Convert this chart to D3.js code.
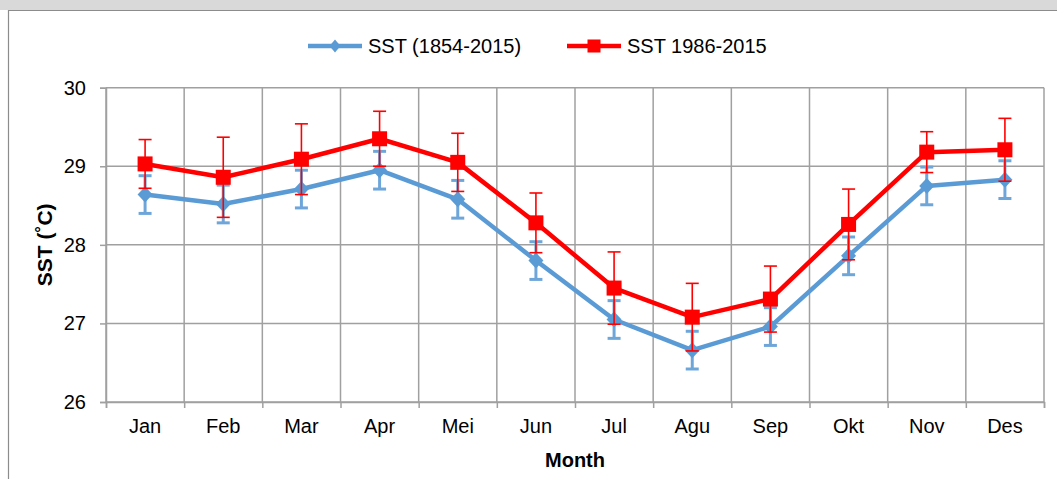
<!DOCTYPE html>
<html>
<head>
<meta charset="utf-8">
<script src="https://cdn.jsdelivr.net/npm/d3@7"></script>
<style>
  html, body { margin: 0; padding: 0; background: #fff; }
  svg { display: block; font-family: Arial, "Liberation Sans", sans-serif; }
</style>
</head>
<body>
<svg id="chart" width="1057" height="479"></svg>
<script>
// ---- data ----
const months = ["Jan","Feb","Mar","Apr","Mei","Jun","Jul","Agu","Sep","Okt","Nov","Des"];
const sstLong = [28.64, 28.52, 28.71, 28.95, 28.58, 27.80, 27.05, 26.66, 26.96, 27.86, 28.75, 28.83];
const sstLongErr = [0.24, 0.24, 0.24, 0.24, 0.24, 0.24, 0.24, 0.24, 0.24, 0.24, 0.24, 0.24];
const sstRecent = [29.03, 28.86, 29.09, 29.35, 29.05, 28.28, 27.45, 27.08, 27.31, 28.26, 29.18, 29.21];
const sstRecentErr = [0.31, 0.51, 0.45, 0.35, 0.37, 0.38, 0.46, 0.43, 0.42, 0.45, 0.26, 0.40];
const yTicks = [26, 27, 28, 29, 30];
const seriesNames = ["SST (1854-2015)", "SST 1986-2015"];

// ---- layout ----
const W = 1057, H = 479;
const plot = { left: 106, right: 1044, top: 87.7, bottom: 402 };
const svg = d3.select("#chart");

// background / frame
svg.append("rect").attr("x", 0).attr("y", 0).attr("width", W).attr("height", H).attr("fill", "#fff");
svg.append("rect").attr("x", 0).attr("y", 0).attr("width", W).attr("height", 10).attr("fill", "#d9d9d9");
svg.append("line").attr("x1", 8).attr("x2", W).attr("y1", 10.5).attr("y2", 10.5)
  .attr("stroke", "#8c8c8c").attr("stroke-width", 1.2);
svg.append("line").attr("x1", 8.5).attr("x2", 8.5).attr("y1", 10).attr("y2", H)
  .attr("stroke", "#8c8c8c").attr("stroke-width", 1.2);

// scales
const x = d3.scaleBand().domain(months).range([plot.left, plot.right]).padding(0);
const xIdx = d3.scaleLinear().domain([0, months.length]).range([plot.left, plot.right]);
const y = d3.scaleLinear().domain([26, 30]).range([plot.bottom, plot.top]);
const cx = m => x(m) + x.bandwidth() / 2;

const gridColor = "#a0a0a0";

// horizontal gridlines
svg.append("g").selectAll("line").data(yTicks).join("line")
  .attr("x1", plot.left).attr("x2", plot.right)
  .attr("y1", d => y(d)).attr("y2", d => y(d))
  .attr("stroke", gridColor).attr("stroke-width", 1.5);
// vertical gridlines at category boundaries
svg.append("g").selectAll("line").data(d3.range(0, months.length + 1)).join("line")
  .attr("x1", d => xIdx(d)).attr("x2", d => xIdx(d))
  .attr("y1", plot.top).attr("y2", plot.bottom)
  .attr("stroke", gridColor).attr("stroke-width", 1.5);

// y axis
const yAxis = svg.append("g").attr("transform", `translate(${plot.left},0)`)
  .call(d3.axisLeft(y).tickValues(yTicks).tickSize(6).tickPadding(14).tickFormat(d3.format("d")));
yAxis.select(".domain").attr("stroke", gridColor).attr("stroke-width", 1.5);
yAxis.selectAll(".tick line").attr("stroke", gridColor).attr("stroke-width", 1.5);
yAxis.selectAll(".tick text").attr("font-size", 20).attr("fill", "#000")
  .attr("font-family", "Arial, 'Liberation Sans', sans-serif");

// x axis ticks at boundaries
const xTickAxis = svg.append("g").attr("transform", `translate(0,${plot.bottom})`)
  .call(d3.axisBottom(xIdx).tickValues(d3.range(0, months.length + 1)).tickSize(6).tickFormat(""));
xTickAxis.select(".domain").attr("stroke", gridColor).attr("stroke-width", 1.5);
xTickAxis.selectAll(".tick line").attr("stroke", gridColor).attr("stroke-width", 1.5);

// x axis labels at centers
const xLab = svg.append("g").attr("transform", `translate(0,${plot.bottom})`)
  .call(d3.axisBottom(x).tickSize(0).tickPadding(17));
xLab.select(".domain").remove();
xLab.selectAll(".tick text").attr("font-size", 20).attr("fill", "#000")
  .attr("font-family", "Arial, 'Liberation Sans', sans-serif");

// axis titles
svg.append("text").attr("x", (plot.left + plot.right) / 2).attr("y", 467)
  .attr("text-anchor", "middle").attr("font-size", 20).attr("font-weight", "bold").text("Month");
svg.append("text")
  .attr("transform", `translate(52,${(plot.top + plot.bottom) / 2}) rotate(-90)`)
  .attr("text-anchor", "middle").attr("font-size", 21).attr("font-weight", "bold")
  .text("SST (\u02DAC)");

// ---- series ----
const blue = "#5b9bd5", red = "#ff0000";
const line = d3.line().x((d, i) => cx(months[i])).y(d => y(d));

function drawSeries(vals, errs, color, errColor, errWidth, capW, marker) {
  const g = svg.append("g");
  g.append("path").datum(vals).attr("d", line).attr("fill", "none")
    .attr("stroke", color).attr("stroke-width", 4.5).attr("stroke-linejoin", "round");
  const eb = g.append("g").selectAll("g").data(vals).join("g")
    .attr("transform", (d, i) => `translate(${cx(months[i])},0)`);
  eb.append("line").attr("x1", 0).attr("x2", 0)
    .attr("y1", (d, i) => y(d + errs[i])).attr("y2", (d, i) => y(d - errs[i]))
    .attr("stroke", errColor).attr("stroke-width", errWidth);
  eb.append("line").attr("x1", -capW / 2).attr("x2", capW / 2)
    .attr("y1", (d, i) => y(d + errs[i])).attr("y2", (d, i) => y(d + errs[i]))
    .attr("stroke", errColor).attr("stroke-width", errWidth);
  eb.append("line").attr("x1", -capW / 2).attr("x2", capW / 2)
    .attr("y1", (d, i) => y(d - errs[i])).attr("y2", (d, i) => y(d - errs[i]))
    .attr("stroke", errColor).attr("stroke-width", errWidth);
  const mk = g.append("g").selectAll("g").data(vals).join("g")
    .attr("transform", (d, i) => `translate(${cx(months[i])},${y(d)})`);
  marker(mk);
}

drawSeries(sstLong, sstLongErr, blue, "#6fa6da", 3, 13, sel => {
  sel.append("path").attr("d", "M0,-8L7.5,0L0,8L-7.5,0Z").attr("fill", blue);
});
drawSeries(sstRecent, sstRecentErr, red, red, 1.6, 13, sel => {
  sel.append("rect").attr("x", -7.5).attr("y", -7.5).attr("width", 15).attr("height", 15).attr("fill", red);
});

// ---- legend ----
const legend = svg.append("g");
const items = [
  { name: seriesNames[0], color: blue, x0: 308, type: "diamond" },
  { name: seriesNames[1], color: red, x0: 567, type: "square" }
];
const ly = 46;
items.forEach(it => {
  legend.append("line").attr("x1", it.x0).attr("x2", it.x0 + 54).attr("y1", ly).attr("y2", ly)
    .attr("stroke", it.color).attr("stroke-width", 4.5);
  const mx = it.x0 + 27;
  if (it.type === "diamond") {
    legend.append("path").attr("d", `M${mx},${ly - 6.5}L${mx + 5.5},${ly}L${mx},${ly + 6.5}L${mx - 5.5},${ly}Z`).attr("fill", it.color);
  } else {
    legend.append("rect").attr("x", mx - 6.5).attr("y", ly - 6.5).attr("width", 13).attr("height", 13).attr("fill", it.color);
  }
  legend.append("text").attr("x", it.x0 + 60).attr("y", ly + 7).attr("font-size", 20).attr("fill", "#000")
    .text(it.name);
});
</script>
</body>
</html>
